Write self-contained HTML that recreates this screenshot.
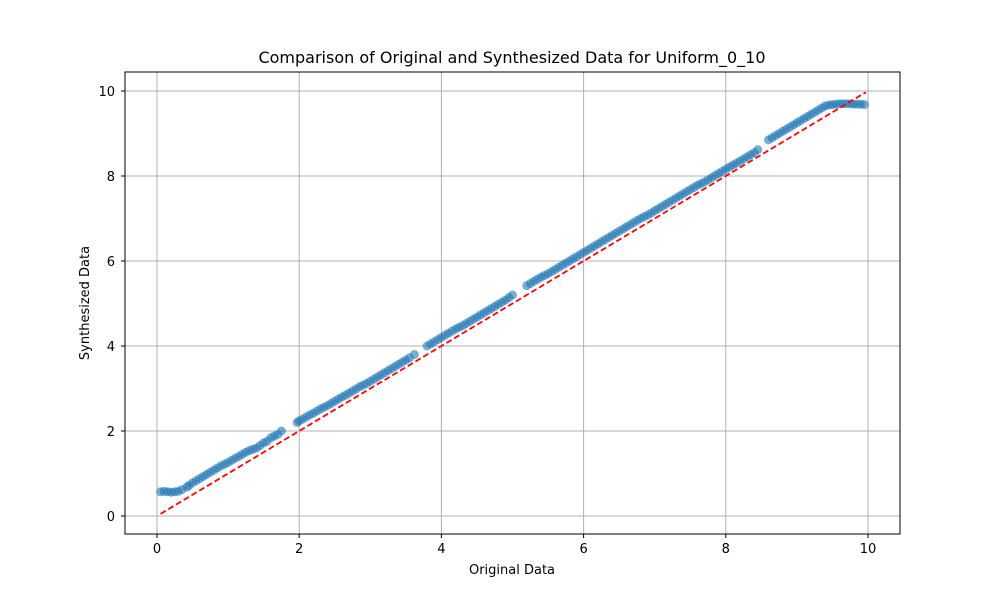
<!DOCTYPE html>
<html><head><meta charset="utf-8"><style>
body{margin:0;background:#fff}
svg text{font-family:"DejaVu Sans","Liberation Sans",sans-serif;fill:#000}
</style></head><body>
<svg id="chart" width="1000" height="600">
<rect width="1000" height="600" fill="#fff"/>
<g id="grid"></g>
<g id="pts"></g>
<g id="ref"></g>
<rect x="125" y="72" width="775" height="462" fill="none" stroke="#000" stroke-width="1"/>
<g id="ticks"></g>
<text x="512" y="63" text-anchor="middle" font-size="16">Comparison of Original and Synthesized Data for Uniform_0_10</text>
<text x="512" y="574" text-anchor="middle" font-size="13">Original Data</text>
<text x="89" y="303" text-anchor="middle" font-size="13" transform="rotate(-90 89 303)">Synthesized Data</text>
</svg>
<script>
const xTicks=[0,2,4,6,8,10];
const yTicks=[0,2,4,6,8,10];
const origX=[0.05,0.1,0.15,0.2,0.25,0.3,0.35,0.42,0.5,0.6,0.7,0.8,0.9,1.0,1.1,1.2,1.3,1.4,1.5,1.55,1.6,1.7,1.75,
1.97,2.05,2.15,2.25,2.35,2.45,2.55,2.65,2.75,2.85,2.95,3.05,3.15,3.25,3.35,3.45,3.55,3.62,
3.8,3.9,4.0,4.1,4.2,4.3,4.4,4.5,4.6,4.7,4.8,4.9,5.0,
5.2,5.3,5.4,5.5,5.6,5.7,5.8,5.9,6.0,6.1,6.2,6.3,6.4,6.5,6.6,6.7,6.8,6.9,7.0,7.1,7.2,7.3,7.4,7.5,7.6,7.7,7.8,7.9,8.0,8.1,8.2,8.3,8.4,8.45,
8.6,8.7,8.8,8.9,9.0,9.1,9.2,9.3,9.4,9.5,9.6,9.7,9.8,9.9,9.95];
const synthY=[0.57,0.58,0.57,0.56,0.57,0.58,0.62,0.68,0.78,0.88,0.98,1.08,1.18,1.26,1.36,1.45,1.54,1.6,1.72,1.76,1.84,1.92,2.0,
2.2,2.28,2.38,2.47,2.56,2.65,2.75,2.84,2.94,3.04,3.12,3.22,3.32,3.42,3.52,3.62,3.72,3.8,
4.0,4.1,4.2,4.3,4.4,4.48,4.58,4.68,4.78,4.88,4.98,5.08,5.2,
5.42,5.52,5.62,5.7,5.8,5.9,6.0,6.1,6.2,6.3,6.4,6.5,6.6,6.7,6.8,6.9,7.0,7.08,7.18,7.28,7.38,7.48,7.58,7.68,7.78,7.86,7.96,8.06,8.16,8.26,8.35,8.45,8.55,8.62,
8.85,8.95,9.05,9.15,9.25,9.35,9.45,9.55,9.65,9.68,9.7,9.7,9.69,9.69,9.68];
const origX2=[0.45,0.55,0.65,0.75,0.85,0.95,1.05,1.15,1.25,1.35,1.45,1.65,
2.0,2.1,2.2,2.3,2.4,2.5,2.6,2.7,2.8,2.9,3.0,3.1,3.2,3.3,3.4,3.5,
3.85,3.95,4.05,4.15,4.25,4.35,4.45,4.55,4.65,4.75,4.85,4.95,
5.25,5.35,5.45,5.55,5.65,5.75,5.85,5.95,6.05,6.15,6.25,6.35,6.45,6.55,6.65,6.75,6.85,6.95,7.05,7.15,7.25,7.35,7.45,7.55,7.65,7.75,7.85,7.95,8.05,8.15,8.25,8.35,
8.65,8.75,8.85,8.95,9.05,9.15,9.25,9.35,9.45,9.55,9.65,9.75,9.85];
const synthY2=[0.72,0.83,0.93,1.03,1.13,1.22,1.31,1.4,1.5,1.57,1.66,1.88,
2.24,2.33,2.42,2.52,2.6,2.7,2.8,2.89,2.99,3.08,3.17,3.27,3.37,3.47,3.57,3.67,
4.05,4.15,4.25,4.35,4.44,4.53,4.63,4.73,4.83,4.93,5.03,5.14,
5.47,5.57,5.66,5.75,5.85,5.95,6.05,6.15,6.25,6.35,6.45,6.55,6.65,6.75,6.85,6.95,7.04,7.13,7.23,7.33,7.43,7.53,7.63,7.73,7.82,7.91,8.01,8.11,8.21,8.3,8.4,8.5,
8.9,9.0,9.1,9.2,9.3,9.4,9.5,9.6,9.67,9.69,9.7,9.7,9.69];
const refLine=[0.05,9.97];
const NS='http://www.w3.org/2000/svg';
const sx=v=>157+v*71.1, sy=v=>516-v*42.5;
function mk(t,a,p){const e=document.createElementNS(NS,t);for(const k in a)e.setAttribute(k,a[k]);p.appendChild(e);return e;}
const grid=document.getElementById('grid'),ticks=document.getElementById('ticks');
xTicks.forEach(v=>{
 const g=mk('line',{x1:sx(v),x2:sx(v),y1:72,y2:534,stroke:'#b0b0b0','stroke-width':1},grid);
 
 
 mk('line',{x1:sx(v),x2:sx(v),y1:534,y2:538,stroke:'#000'},ticks);
 const t=mk('text',{x:sx(v),y:553,'text-anchor':'middle','font-size':13},ticks);t.textContent=v;
 
 
});
yTicks.forEach(v=>{
 const g=mk('line',{x1:125,x2:900,y1:sy(v),y2:sy(v),stroke:'#b0b0b0','stroke-width':1},grid);
 
 
 mk('line',{x1:121,x2:125,y1:sy(v),y2:sy(v),stroke:'#000'},ticks);
 const t=mk('text',{x:115,y:sy(v)+5,'text-anchor':'end','font-size':13},ticks);t.textContent=v;
 
 
});
const pts=document.getElementById('pts');
function drawPts(xs,ys){
 const n=Math.min(xs.length,ys.length);
 for(let i=0;i<n;i++){
  const c=mk('circle',{cx:sx(xs[i]),cy:sy(ys[i]),r:4.5,fill:'#1f77b4','fill-opacity':0.6},pts);
  
  
 }
}
drawPts(origX,synthY);
drawPts(origX2,synthY2);
const l=mk('line',{x1:sx(refLine[0]),y1:sy(refLine[0]),x2:sx(refLine[1]),y2:sy(refLine[1]),stroke:'#ff0000','stroke-width':1.8,'stroke-dasharray':'6,3'},document.getElementById('ref'));


</script>
</body></html>
